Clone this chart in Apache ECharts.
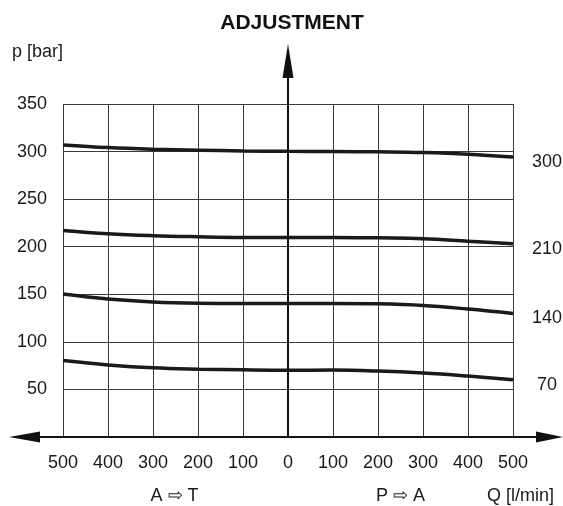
<!DOCTYPE html>
<html><head><meta charset="utf-8">
<script src="https://cdn.jsdelivr.net/npm/echarts@6/dist/echarts.min.js"></script>
<style>html,body{margin:0;padding:0;background:#fff}#c{width:563px;height:506px}</style>
</head><body><div id="c"></div>
<script>
// Data
const flowTicks = [-500, -400, -300, -200, -100, 0, 100, 200, 300, 400, 500];
const curve300 = [307, 304.2, 302.5, 301.5, 300.7, 300.3, 300.1, 299.7, 299, 297.3, 294.2];
const curve210 = [217.1, 213.6, 211.6, 210.5, 209.8, 209.7, 209.8, 209.3, 208.5, 205.8, 203];
const curve140 = [150.3, 145.1, 142, 140.6, 140.3, 140.3, 140.4, 140, 138.3, 134.5, 129.9];
const curve70 = [80.4, 75.8, 72.7, 71.3, 70.6, 70.2, 70.3, 69.3, 67.2, 64, 60.2];
const curveNames = ['300', '210', '140', '70'];
const pressureMin = 0, pressureMax = 350, pressureStep = 50;
const flowMin = -500, flowMax = 500, flowStep = 100;
const titleText = 'ADJUSTMENT';
const yName = 'p [bar]';
const leftDir = 'A \u21E8 T';
const rightDir = 'P \u21E8 A';
const xName = 'Q [l/min]';

const FONT = '"Liberation Sans", Arial, Helvetica, sans-serif';
const curves = [curve300, curve210, curve140, curve70];

const chart = echarts.init(document.getElementById('c'), null, {renderer: 'canvas'});
chart.setOption({
  animation: false,
  backgroundColor: '#fff',
  grid: {left: 63, right: 50, top: 104, bottom: 69, containLabel: false},
  xAxis: {
    type: 'value', min: flowMin, max: flowMax, interval: flowStep,
    axisLine: {show: false}, axisTick: {show: false},
    axisLabel: {margin: 17, fontSize: 18, color: '#1a1a1a', fontFamily: FONT,
      formatter: v => String(Math.abs(v))},
    splitLine: {show: true, lineStyle: {color: '#3a3a3a', width: 1}}
  },
  yAxis: {
    type: 'value', min: pressureMin, max: pressureMax, interval: pressureStep,
    axisLine: {show: false}, axisTick: {show: false},
    axisLabel: {margin: 16, fontSize: 18, color: '#1a1a1a', fontFamily: FONT,
      padding: [5, 0, 0, 0],
      formatter: v => v === 0 ? '' : String(v)},
    splitLine: {show: true, lineStyle: {color: '#3a3a3a', width: 1}}
  },
  series: curves.map((c, i) => ({
    type: 'line',
    name: curveNames[i],
    data: flowTicks.map((x, j) => [x, c[j]]),
    smooth: 0.4,
    showSymbol: false,
    symbol: 'none',
    lineStyle: {color: '#1a1a1a', width: 3.5},
    endLabel: {show: true, formatter: curveNames[i], fontSize: 18, color: '#1a1a1a',
      fontFamily: FONT, distance: 0, align: 'center', offset: [34, 5]},
    z: 3
  }))
});

const o = chart.convertToPixel({gridIndex: 0}, [0, 0]);
const L = chart.convertToPixel({gridIndex: 0}, [flowMin, 0]);
const R = chart.convertToPixel({gridIndex: 0}, [flowMax, 0]);
const T = chart.convertToPixel({gridIndex: 0}, [0, pressureMax]);
const pl = chart.convertToPixel({gridIndex: 0}, [-250, 0]);
const pr = chart.convertToPixel({gridIndex: 0}, [250, 0]);
const ink = '#111';
chart.setOption({
  graphic: [
    {type: 'line', shape: {x1: L[0] - 30, y1: o[1], x2: R[0] + 26, y2: o[1]}, style: {stroke: ink, lineWidth: 2}, z: 10},
    {type: 'polygon', shape: {points: [[L[0] - 54, o[1]], [L[0] - 23, o[1] - 5.5], [L[0] - 23, o[1] + 5.5]]}, style: {fill: ink}, z: 10},
    {type: 'polygon', shape: {points: [[R[0] + 50, o[1]], [R[0] + 23, o[1] - 5.5], [R[0] + 23, o[1] + 5.5]]}, style: {fill: ink}, z: 10},
    {type: 'line', shape: {x1: o[0], y1: o[1], x2: o[0], y2: T[1] - 30}, style: {stroke: ink, lineWidth: 2}, z: 10},
    {type: 'polygon', shape: {points: [[o[0], T[1] - 60], [o[0] - 5.5, T[1] - 26], [o[0] + 5.5, T[1] - 26]]}, style: {fill: ink}, z: 10},
    {type: 'text', x: o[0] + 4, y: 23, style: {text: titleText, font: 'bold 21px ' + FONT, fill: '#111', textAlign: 'center', textVerticalAlign: 'middle'}},
    {type: 'text', x: 12, y: 52, style: {text: yName, font: '18px ' + FONT, fill: '#1a1a1a', textAlign: 'left', textVerticalAlign: 'middle'}},
    {type: 'text', x: pl[0] - 1, y: 496, style: {text: leftDir, font: '18px ' + FONT, fill: '#1a1a1a', textAlign: 'center', textVerticalAlign: 'middle'}},
    {type: 'text', x: pr[0], y: 496, style: {text: rightDir, font: '18px ' + FONT, fill: '#1a1a1a', textAlign: 'center', textVerticalAlign: 'middle'}},
    {type: 'text', x: R[0] + 41, y: 496, style: {text: xName, font: '18px ' + FONT, fill: '#1a1a1a', textAlign: 'right', textVerticalAlign: 'middle'}}
  ]
});
</script></body></html>
